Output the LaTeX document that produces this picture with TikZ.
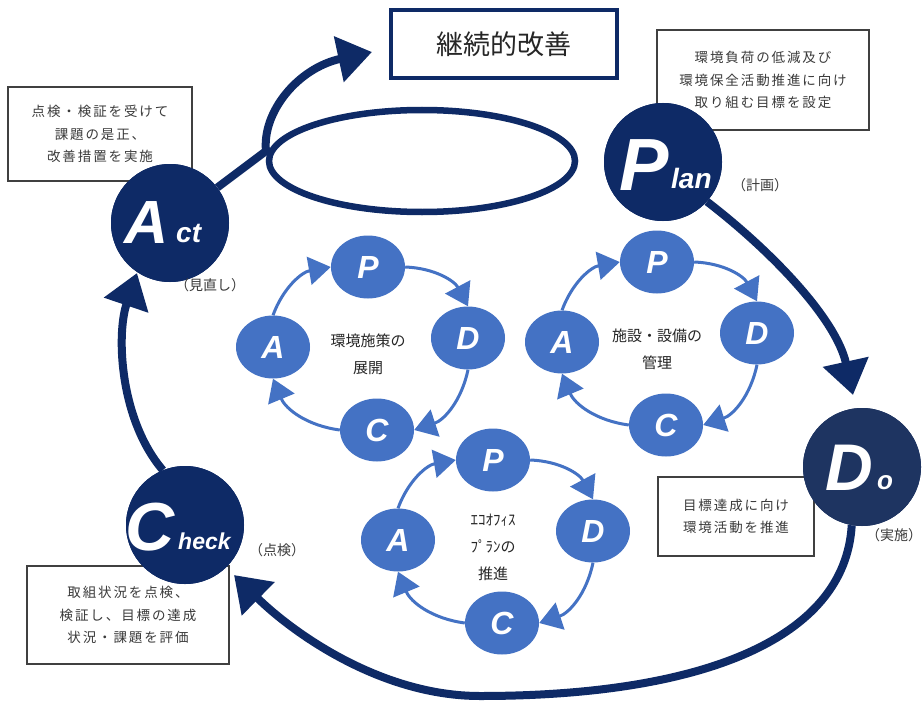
\documentclass[tikz,border=0pt]{standalone}
\usepackage{fontspec}
\setmainfont{Noto Sans CJK JP}
\newfontfamily\jpbox[LetterSpace=14]{Noto Sans CJK JP}
\newfontfamily\latb{Liberation Sans}
\usetikzlibrary{arrows.meta,shapes.geometric}
\definecolor{navy}{HTML}{0E2A66}
\definecolor{donavy}{HTML}{1E3461}
\definecolor{pblue}{HTML}{4472C4}
\definecolor{boxtext}{HTML}{3A3A3A}
\tikzset{
  bigc/.style={circle, fill=#1, minimum size=118pt, inner sep=0pt},
  bigletter/.style={text=white, font=\latb\bfseries\itshape\fontsize{#1}{#1}\selectfont, anchor=base west, inner sep=0pt},
  descbox/.style={draw=black!75, line width=1.1pt, fill=white, align=center, text=boxtext,
    font=\jpbox\fontsize{13.5}{22.5}\selectfont, inner sep=0pt},
  paren/.style={text=boxtext, font=\fontsize{14}{16}\selectfont, inner sep=0pt},
  mainarrow/.style={draw=navy, line width=8pt, -{Triangle[length=34pt,width=45pt]}},
  smallc/.style={ellipse, fill=pblue, minimum width=74pt, minimum height=63pt, inner sep=0pt,
    text=white, font=\latb\bfseries\itshape\fontsize{32}{32}\selectfont},
  sarrow/.style={draw=pblue, line width=3pt, -{Triangle[length=22pt,width=28pt]}},
  cyctext/.style={align=center, text=black!85, font=\fontsize{15}{27}\selectfont, inner sep=0pt},
}
\newcommand\pdcacycle[4]{%
  \node[smallc] (#3P) at (#1,#2) {P};
  \node[smallc] (#3D) at ([shift={(100,71)}]#1,#2) {D};
  \node[smallc] (#3C) at ([shift={(9,163)}]#1,#2) {C};
  \node[smallc] (#3A) at ([shift={(-95,80)}]#1,#2) {A};
  \node[cyctext] (#3T) at ([shift={(0,87)}]#1,#2) {#4};
  \draw[sarrow] (#3P.east) to[bend left=30] (#3D.north);
  \draw[sarrow] (#3D.south) to[bend left=30] (#3C.east);
  \draw[sarrow] (#3C.west) to[bend left=30] (#3A.south);
  \draw[sarrow] (#3A.north) to[bend left=30] (#3P.west);
}
\begin{document}
\begin{tikzpicture}[x=1pt,y=-1pt]
\useasboundingbox[fill=white] (0,0) rectangle (923,706);

% description boxes
\node[descbox, minimum width=184pt, minimum height=94pt] (actbox) at (100,134)
  {点検・検証を受けて\\課題の是正、\\改善措置を実施};
\node[descbox, minimum width=212pt, minimum height=100pt] (planbox) at (763,80)
  {環境負荷の低減及び\\環境保全活動推進に向け\\取り組む目標を設定};
\node[descbox, minimum width=156pt, minimum height=79pt] (dobox) at (736,516.5)
  {目標達成に向け\\環境活動を推進};
\node[descbox, minimum width=202pt, minimum height=98pt] (checkbox) at (128,615)
  {取組状況を点検、\\検証し、目標の達成\\状況・課題を評価};

% title box
\node[draw=navy, line width=4pt, minimum width=226pt, minimum height=68pt, inner sep=0pt,
  font=\fontsize{27}{27}\selectfont, text=black!85] (kaizen) at (504,44) {継続的改善};

% ellipse
\node[ellipse, draw=navy, line width=6.5pt, minimum width=306pt, minimum height=102pt, inner sep=0pt] (loop) at (422,161) {};

% big PDCA circles
\node[bigc=navy] (Act) at (170,223) {};
\node[bigc=navy] (Plan) at (663,162) {};
\node[bigc=donavy] (Do) at (862,467) {};
\node[bigc=navy] (Check) at (185,525) {};

% main arrows
\coordinate (actbend) at (266,151);
\coordinate (kaizentip) at (372,52);
\draw[mainarrow] (Act) -- (actbend) .. controls (262,112) and (298,68) .. (kaizentip);
\coordinate (dotip) at (853,395);
\draw[mainarrow] (Plan.-42) .. controls (770,250) and (836,318) .. (dotip);
\coordinate (dolow) at (480,696);
\coordinate (checktip) at (234,575);
\draw[mainarrow] (Do.-100) .. controls (845,640) and (700,696) .. (dolow)
  .. controls (380,696) and (292,632) .. (checktip);
\coordinate (acttip) at (137,273);
\draw[mainarrow] (Check.112) .. controls (120,420) and (116,335) .. (acttip);

% redraw circles on top of arrow starts
\node[bigc=navy] at (Act) {};
\node[bigc=navy] at (Plan) {};
\node[bigc=donavy] at (Do) {};
\node[bigc=navy] at (Check) {};

% letters
\node[bigletter=61] (lA) at (124,243) {A};
\node[bigletter=28] (lct) at (176,242) {ct};
\node[bigletter=74] (lP) at (619,190) {P};
\node[bigletter=28] (llan) at (671,188) {lan};
\node[bigletter=66] (lD) at (825,490) {D};
\node[bigletter=26] (lo) at (877,489) {o};
\node[bigletter=68] (lC) at (125,550) {C};
\node[bigletter=23] (lheck) at (178,549) {heck};

% parenthesised labels
\node[paren] (mnaoshi) at (210,285) {（見直し）};
\node[paren] (keikaku) at (760,185) {（計画）};
\node[paren] (jisshi) at (894,535) {（実施）};
\node[paren] (tenken) at (277,550) {（点検）};

% inner cycles
\pdcacycle{368}{267}{a}{環境施策の\\展開}
\pdcacycle{657}{262}{b}{施設・設備の\\管理}
\pdcacycle{493}{460}{c}{ｴｺｵﾌｨｽ\\ﾌﾟﾗﾝの\\推進}
\end{tikzpicture}
\end{document}
